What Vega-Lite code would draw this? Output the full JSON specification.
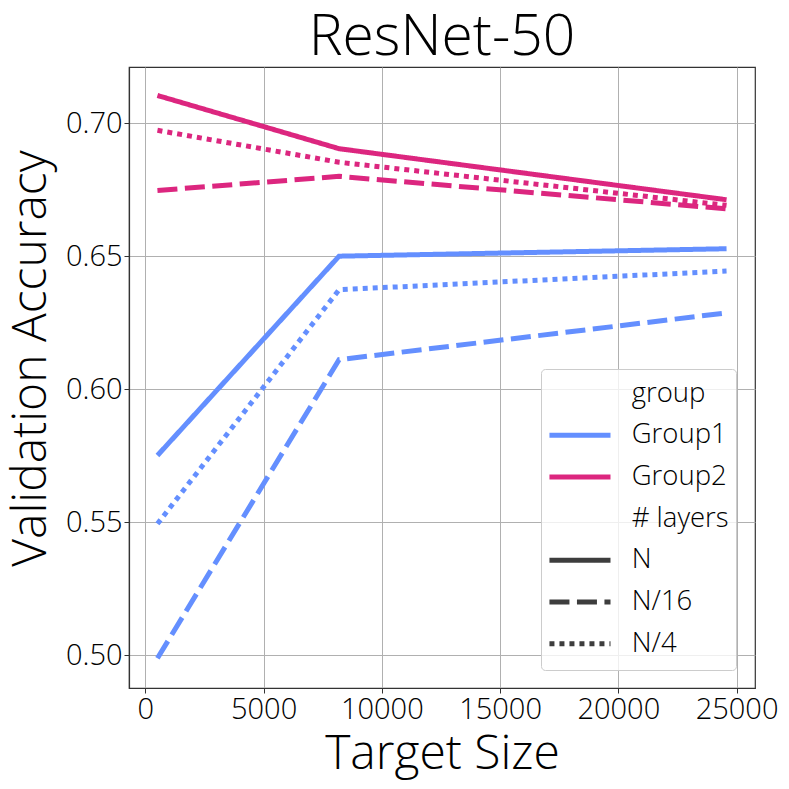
{
  "$schema": "https://vega.github.io/schema/vega-lite/v6.json",
  "autosize": "none",
  "width": 626,
  "height": 621,
  "padding": {"left": 129, "top": 67, "right": 34, "bottom": 101},
  "background": "white",
  "title": {
    "text": "ResNet-50",
    "fontSize": 57,
    "font": "Open Sans",
    "fontWeight": 300,
    "color": "black",
    "offset": 0,
    "anchor": "middle"
  },
  "data": {
    "values": [
      {"group": "Group1", "layers": "N", "size": 512, "acc": 0.5751},
      {"group": "Group1", "layers": "N", "size": 8192, "acc": 0.650},
      {"group": "Group1", "layers": "N", "size": 24576, "acc": 0.6528},
      {"group": "Group1", "layers": "N/4", "size": 512, "acc": 0.5494},
      {"group": "Group1", "layers": "N/4", "size": 8192, "acc": 0.6374},
      {"group": "Group1", "layers": "N/4", "size": 24576, "acc": 0.6444},
      {"group": "Group1", "layers": "N/16", "size": 512, "acc": 0.4989},
      {"group": "Group1", "layers": "N/16", "size": 8192, "acc": 0.6111},
      {"group": "Group1", "layers": "N/16", "size": 24576, "acc": 0.6287},
      {"group": "Group2", "layers": "N", "size": 512, "acc": 0.7104},
      {"group": "Group2", "layers": "N", "size": 8192, "acc": 0.6904},
      {"group": "Group2", "layers": "N", "size": 24576, "acc": 0.6712},
      {"group": "Group2", "layers": "N/4", "size": 512, "acc": 0.6973},
      {"group": "Group2", "layers": "N/4", "size": 8192, "acc": 0.6853},
      {"group": "Group2", "layers": "N/4", "size": 24576, "acc": 0.6691},
      {"group": "Group2", "layers": "N/16", "size": 512, "acc": 0.6747},
      {"group": "Group2", "layers": "N/16", "size": 8192, "acc": 0.6800},
      {"group": "Group2", "layers": "N/16", "size": 24576, "acc": 0.6678}
    ]
  },
  "mark": {"type": "line", "strokeWidth": 5, "strokeCap": "butt"},
  "encoding": {
    "x": {
      "field": "size",
      "type": "quantitative",
      "title": "Target Size",
      "scale": {"domain": [-691, 25779], "nice": false, "zero": false},
      "axis": {
        "values": [0, 5000, 10000, 15000, 20000, 25000],
        "format": "d",
        "titleBaseline": "alphabetic",
        "titleY": 80
      }
    },
    "y": {
      "field": "acc",
      "type": "quantitative",
      "title": "Validation Accuracy",
      "scale": {"domain": [0.4877, 0.7211], "nice": false, "zero": false},
      "axis": {
        "values": [0.5, 0.55, 0.6, 0.65, 0.7],
        "format": ".2f",
        "titleAngle": -90,
        "titleBaseline": "alphabetic",
        "titleAlign": "center",
        "titleX": -84,
        "titleY": 291
      }
    },
    "color": {
      "field": "group",
      "type": "nominal",
      "scale": {
        "domain": ["group", "Group1", "Group2", "# layers", "N", "N/16", "N/4"],
        "range": ["rgba(0,0,0,0)", "#648FFF", "#DC267F", "rgba(0,0,0,0)", "#3d3d3d", "#3d3d3d", "#3d3d3d"]
      },
      "legend": {
        "title": " ",
        "titleOrient": "bottom",
        "titleFontSize": 6,
        "titlePadding": 0,
        "orient": "none",
        "direction": "vertical",
        "legendX": 412,
        "legendY": 302,
        "padding": 7,
        "symbolType": "M-1.07,0H3.0",
        "symbolSize": 900,
        "symbolStrokeWidth": 5,
        "rowPadding": 10.7,
        "labelOffset": 48.7,
        "labelFontSize": 27.5,
        "labelFont": "Open Sans",
        "labelFontWeight": 300,
        "labelColor": "black",
        "labelLimit": 300,
        "fillColor": "rgba(255,255,255,0.8)",
        "strokeColor": "#cccccc",
        "cornerRadius": 4,
        "encode": {
          "symbols": {
            "update": {
              "strokeDash": {"signal": "datum.value == 'N/16' ? [20, 7.5] : datum.value == 'N/4' ? [5, 5] : [1, 0]"},
              "strokeCap": {"value": "butt"}
            }
          }
        }
      }
    },
    "strokeDash": {
      "field": "layers",
      "type": "nominal",
      "scale": {"domain": ["N", "N/16", "N/4"], "range": [[1, 0], [20, 7.5], [5, 5]]},
      "legend": null
    },
    "detail": {"field": "layers"}
  },
  "config": {
    "font": "Open Sans",
    "view": {"stroke": "#333333", "strokeWidth": 1.2},
    "axis": {
      "labelFont": "Open Sans",
      "labelFontWeight": 300,
      "labelFontSize": 29,
      "labelColor": "black",
      "titleFont": "Open Sans",
      "titleFontWeight": 300,
      "titleFontSize": 48,
      "titleColor": "black",
      "grid": true,
      "gridColor": "#b0b0b0",
      "gridWidth": 1,
      "domainColor": "#333333",
      "domainWidth": 1.2,
      "tickColor": "#333333",
      "tickSize": 5,
      "labelPadding": 2
    }
  }
}
